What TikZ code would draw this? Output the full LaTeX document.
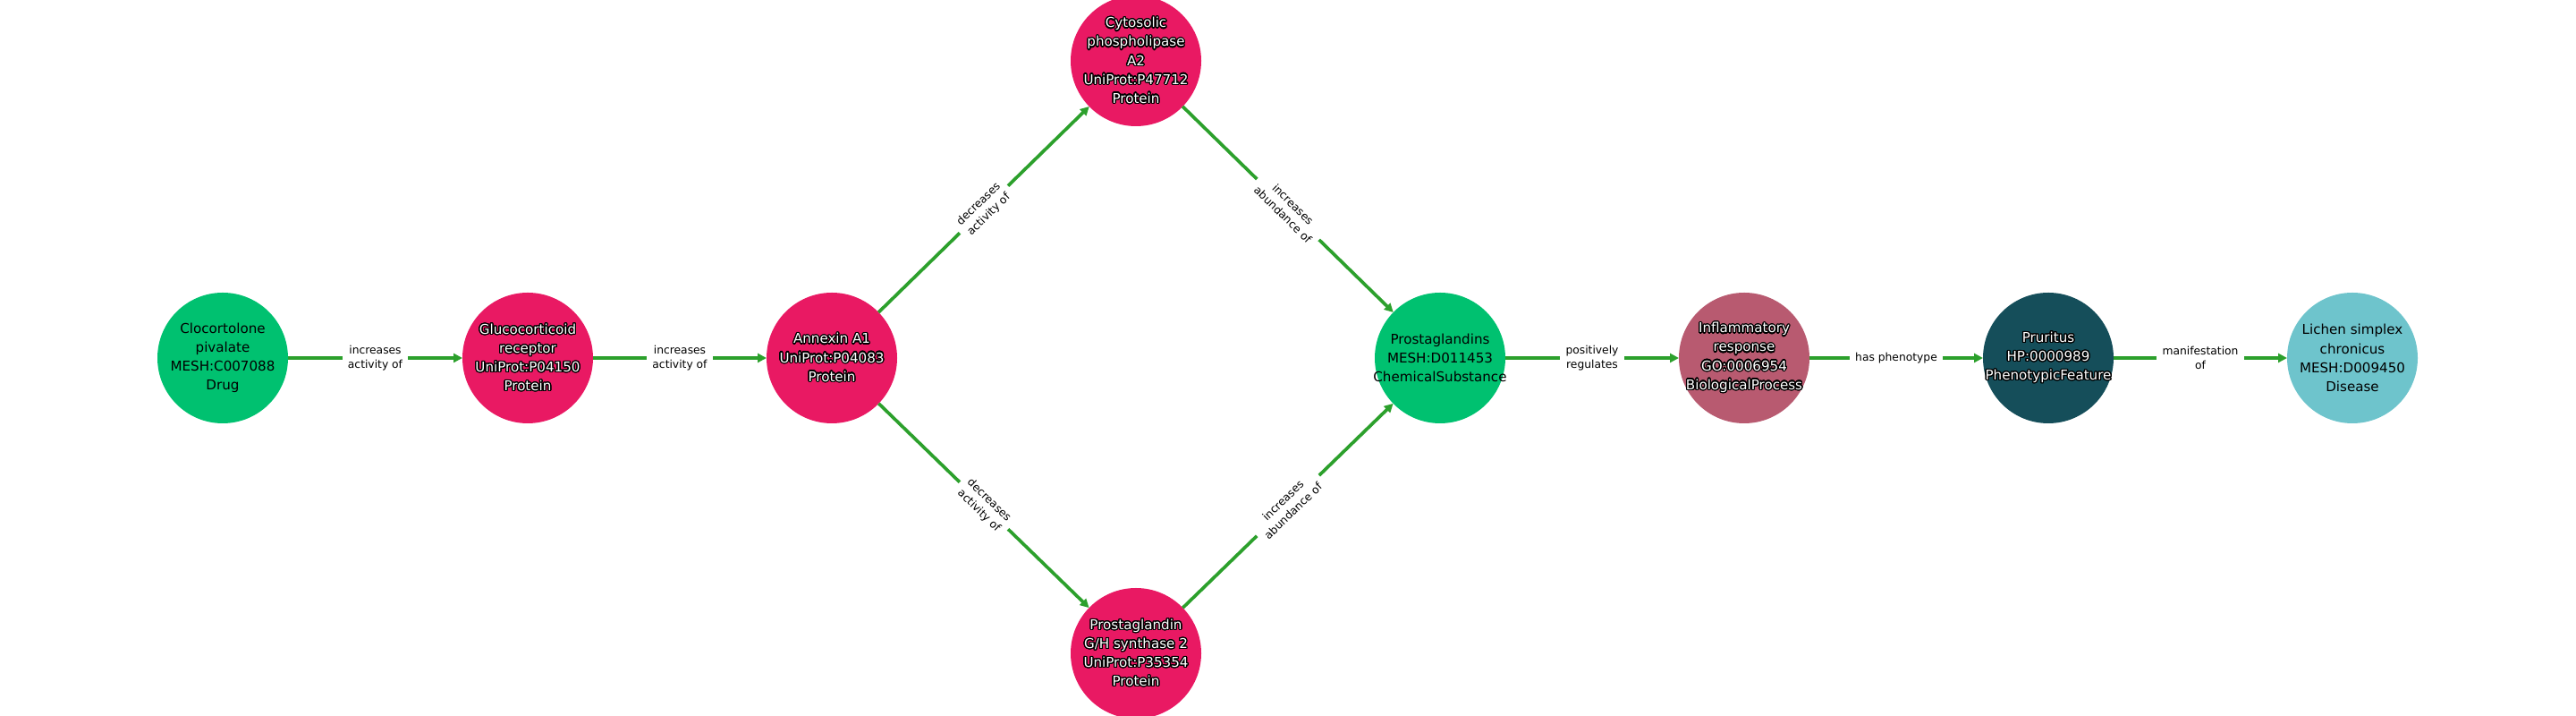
\documentclass[tikz,border=0pt]{standalone}
\usepackage{fontspec}
\setmainfont{DejaVu Sans}
\usepackage{contour}
\usetikzlibrary{arrows.meta}
\contourlength{0.35pt}
\contournumber{24}
\definecolor{drug}{RGB}{0,193,112}
\definecolor{protein}{RGB}{233,25,99}
\definecolor{process}{RGB}{184,90,112}
\definecolor{pheno}{RGB}{21,78,90}
\definecolor{disease}{RGB}{110,196,204}
\definecolor{edgegreen}{RGB}{44,160,44}
\newcommand{\wl}[1]{\contour{black}{#1}}
% circle of fixed size, text laid on top
\newcommand{\entity}[5]{
    \node[ent, fill=#3] (#1) at (#2) {};
    \node[#4] (#1-txt) at (#1) {#5};
}
\tikzset{
    ent/.style={circle, minimum size=1.46cm, inner sep=0pt, outer sep=0pt},
    lt/.style={align=center, inner sep=0pt, text=black, font=\fontsize{4.3}{6}\selectfont},
    dk/.style={lt, text=white},
    rel/.style={draw=edgegreen, line width=1.05pt, -{Triangle[length=2.8pt,width=2.8pt]}},
    lbl/.style={fill=white, inner sep=1.8pt, align=center, text=black,
        font=\fontsize{3.5}{4.6}\selectfont}
}

\begin{document}
\begin{tikzpicture}
\useasboundingbox (0,0) rectangle (28.8,8);
% nodes
\entity{clo}{2.49,4}{drug}{lt}{Clocortolone\\pivalate\\MESH:C007088\\Drug}
\entity{gr}{5.90,4}{protein}{dk}{\wl{Glucocorticoid}\\\wl{receptor}\\\wl{UniProt:P04150}\\\wl{Protein}}
\entity{anx}{9.30,4}{protein}{dk}{\wl{Annexin A1}\\\wl{UniProt:P04083}\\\wl{Protein}}
\entity{cpla}{12.70,7.32}{protein}{dk}{\wl{Cytosolic}\\\wl{phospholipase}\\\wl{A2}\\\wl{UniProt:P47712}\\\wl{Protein}}
\entity{pghs}{12.70,0.70}{protein}{dk}{\wl{Prostaglandin}\\\wl{G/H synthase 2}\\\wl{UniProt:P35354}\\\wl{Protein}}
\entity{pg}{16.10,4}{drug}{lt}{Prostaglandins\\MESH:D011453\\ChemicalSubstance}
\entity{inf}{19.50,4}{process}{dk}{\wl{Inflammatory}\\\wl{response}\\\wl{GO:0006954}\\\wl{BiologicalProcess}}
\entity{pru}{22.90,4}{pheno}{dk}{\wl{Pruritus}\\\wl{HP:0000989}\\\wl{PhenotypicFeature}}
\entity{lsc}{26.30,4}{disease}{lt}{Lichen simplex\\chronicus\\MESH:D009450\\Disease}
% edges
\draw[rel] (clo) -- node[lbl] {increases\\activity of} (gr);
\draw[rel] (gr) -- node[lbl] {increases\\activity of} (anx);
\draw[rel] (anx) -- node[lbl, sloped] {decreases\\activity of} (cpla);
\draw[rel] (anx) -- node[lbl, sloped] {decreases\\activity of} (pghs);
\draw[rel] (cpla) -- node[lbl, sloped] {increases\\abundance of} (pg);
\draw[rel] (pghs) -- node[lbl, sloped] {increases\\abundance of} (pg);
\draw[rel] (pg) -- node[lbl] {positively\\regulates} (inf);
\draw[rel] (inf) -- node[lbl] {has phenotype} (pru);
\draw[rel] (pru) -- node[lbl] {manifestation\\of} (lsc);
\end{tikzpicture}
\end{document}
